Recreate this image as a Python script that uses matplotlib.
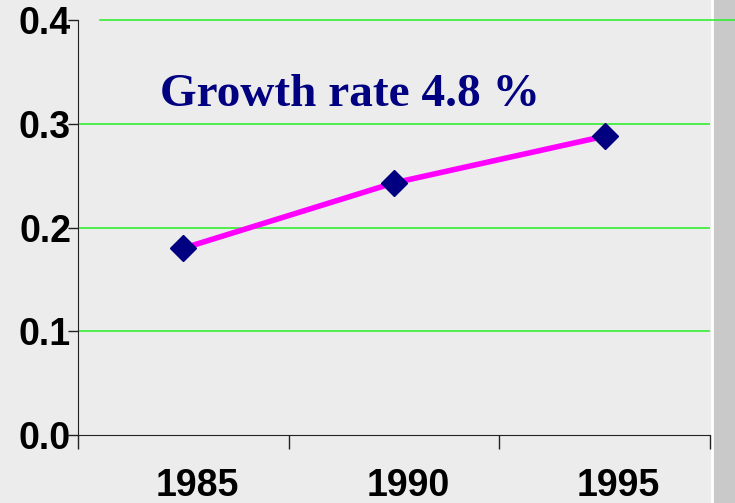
import matplotlib
matplotlib.use("Agg")
import matplotlib.pyplot as plt
from matplotlib.patches import Rectangle
from matplotlib.lines import Line2D
import matplotlib.transforms as mtransforms

years = ["1985", "1990", "1995"]
values = [0.180, 0.243, 0.288]
yticks = [0.0, 0.1, 0.2, 0.3, 0.4]
title_text = "Growth rate 4.8 %"

W, H = 735, 503
fig = plt.figure(figsize=(W / 100, H / 100), dpi=100)
fig.patch.set_facecolor("#ececec")

# right textured strip
fig.patches.append(Rectangle((713 / W, 0), 1 - 713 / W, 1, transform=fig.transFigure,
                             facecolor="#c9c9c9", edgecolor="none", zorder=0))
fig.lines.append(Line2D([712 / W, 712 / W], [0, 1], transform=fig.transFigure,
                        color="white", lw=2, zorder=1))

ax = fig.add_axes([78 / W, 1 - 435 / H, (710 - 78) / W, (435 - 20) / H])
ax.set_zorder(3)
ax.set_facecolor("none")
x = list(range(len(years)))
ax.set_xlim(-0.5, len(years) - 0.5)
ax.set_ylim(0, 0.4)

for t in yticks[1:-1]:
    ax.axhline(t, color="#33ee33", lw=1.2, zorder=1)
# top gridline extends past right edge
ax.plot([0.035, 1.05], [1, 1], transform=ax.transAxes, color="#33ee33", lw=1.2,
        clip_on=False, zorder=1)

ax.plot(x, values, color="#ff00ff", lw=4, zorder=3)
ax.plot(x, values, linestyle="none", marker="D", markersize=13,
        color="#000080", zorder=4)

ax.set_yticks(yticks)
ax.set_yticklabels([f"{v:.1f}" for v in yticks])
ax.set_xticks([i - 0.5 for i in range(len(years) + 1)])
ax.set_xticklabels([])
ax.set_xticks(x, minor=True)
ax.set_xticklabels(years, minor=True)
ax.tick_params(axis="x", which="major", direction="out", length=10, width=1, color="#222222")
ax.tick_params(axis="x", which="minor", length=0, pad=24)
ax.tick_params(axis="y", direction="out", length=7, width=1, pad=-2, color="#222222")
offset = mtransforms.ScaledTranslation(14 / 100, 0, fig.dpi_scale_trans)
for lab in ax.get_xticklabels(minor=True):
    lab.set_transform(lab.get_transform() + offset)
for lab in ax.get_xticklabels(minor=True) + ax.get_yticklabels():
    lab.set_fontfamily("Liberation Sans")
    lab.set_fontweight("bold")
    lab.set_fontsize(27)
    lab.set_color("black")

for s in ["top", "right"]:
    ax.spines[s].set_visible(False)
ax.spines["left"].set_color("#222222")
ax.spines["bottom"].set_color("#222222")

ax.text(160 / W, 1 - 95 / H, title_text, transform=fig.transFigure,
        fontfamily="Liberation Serif", fontweight="bold", fontsize=34,
        color="#000080", va="center", ha="left")

fig.savefig("out.png", dpi=100, facecolor=fig.get_facecolor())
